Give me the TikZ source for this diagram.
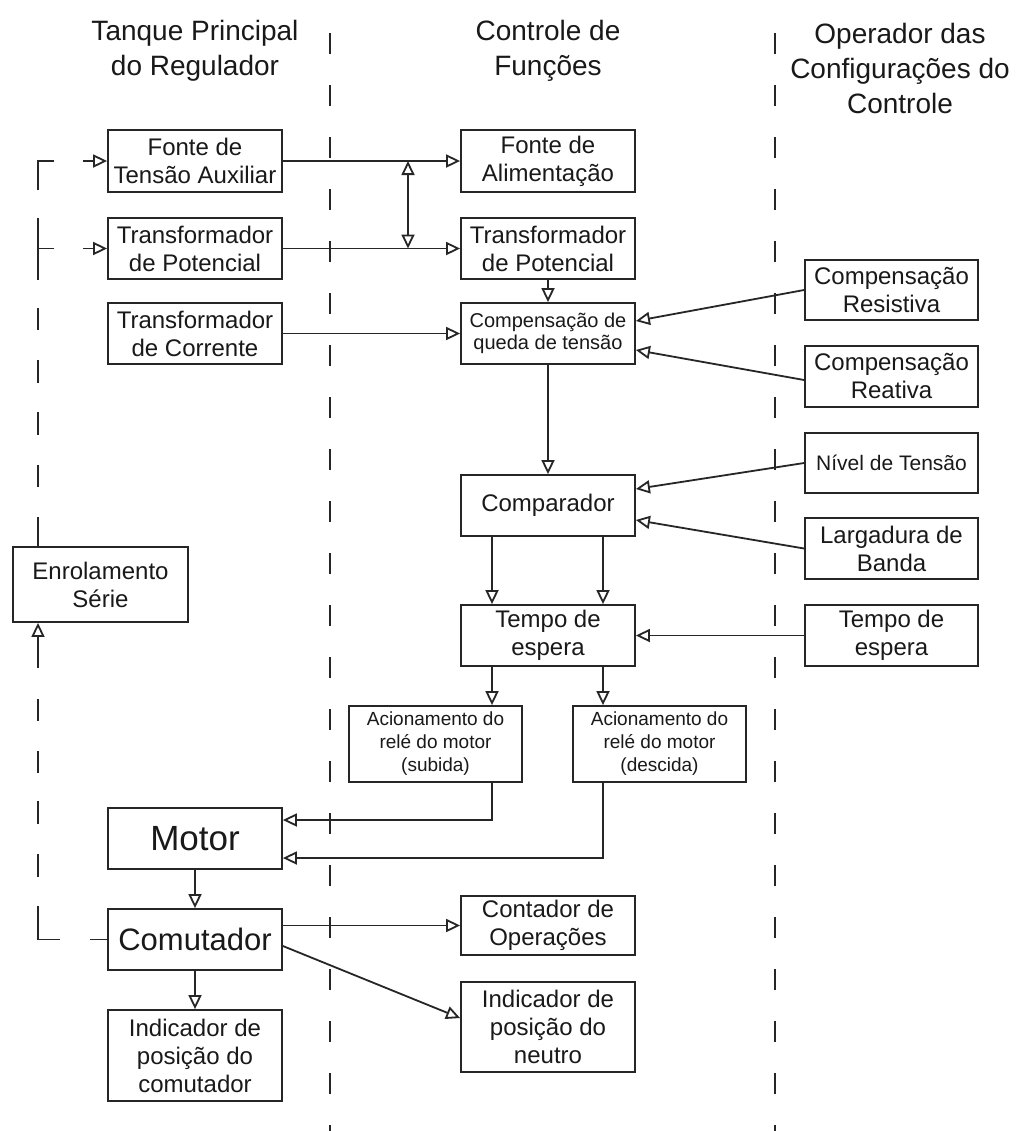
\documentclass[tikz,border=0pt]{standalone}
\usepackage{fontspec}
\setmainfont{Liberation Sans}
\usetikzlibrary{arrows.meta}
\begin{document}
\begin{tikzpicture}[x=0.5pt,y=-0.5pt,
  >={Triangle[open,length=7pt,width=6.5pt]},
  box/.style={draw=black!85, line width=0.9pt, minimum width=87pt, inner sep=0pt, align=center, text=black!90, font=\fontsize{12}{14}\selectfont},
  rbox/.style={box, minimum width=86.5pt},
  head/.style={align=center, text=black!90, font=\fontsize{14}{17.5}\selectfont},
  conn/.style={draw=black!85, line width=0.9pt},
  sep/.style={draw=black!85, line width=0.9pt, dash pattern=on 10.5pt off 15.5pt}
]
\useasboundingbox (0,0) rectangle (1017,1131);
\fill[white] (0,0) rectangle (1017,1131);

% headers
\node[head] (h1) at (195,51) {Tanque Principal\\do Regulador};
\node[head] (h2) at (548,51) {Controle de\\Funções};
\node[head] (h3) at (900,68.5) {Operador das\\Configurações do\\Controle};

% separators
\coordinate (s1t) at (330,33); \coordinate (s1b) at (330,1131);
\coordinate (s2t) at (775,33); \coordinate (s2b) at (775,1131);
\draw[sep] (s1t) -- (s1b);
\draw[sep] (s2t) -- (s2b);

% left column
\node[box, minimum height=31pt] (fta) at (195,161) {Fonte de\\Tensão Auxiliar};
\node[box, minimum height=30.5pt] (tpl) at (195,248.5) {Transformador\\de Potencial};
\node[box, minimum height=30.5pt] (tc) at (195,333.5) {Transformador\\de Corrente};
\node[box, minimum width=87.5pt, minimum height=37.5pt] (es) at (100.5,584.5) {Enrolamento\\Série};
\node[box, minimum height=30.5pt, font=\fontsize{17.5}{20}\selectfont] (mot) at (195,838.5) {Motor};
\node[box, minimum height=30.5pt, font=\fontsize{15.5}{18}\selectfont] (com) at (195,939.5) {Comutador};
\node[box, minimum height=45.5pt] (ic) at (195,1055.5) {Indicador de\\posição do\\comutador};

% middle column
\node[box, minimum height=31pt] (fa) at (548,161) {Fonte de\\Alimentação};
\node[box, minimum height=30.5pt] (tpm) at (548,248.5) {Transformador\\de Potencial};
\node[box, minimum height=30.5pt, font=\fontsize{10}{11}\selectfont] (cq) at (548,333.5) {Compensação de\\queda de tensão};
\node[box, minimum height=30.5pt] (comp) at (548,505.5) {Comparador};
\node[box, minimum height=30.5pt] (tm) at (548,635.5) {Tempo de\\espera};
\node[box, minimum width=86.5pt, minimum height=38pt, font=\fontsize{9.5}{11.5}\selectfont] (as) at (435.5,744) {Acionamento do\\relé do motor\\(subida)};
\node[box, minimum width=86.5pt, minimum height=38pt, font=\fontsize{9.5}{11.5}\selectfont] (ad) at (659.5,744) {Acionamento do\\relé do motor\\(descida)};
\node[box, minimum height=29.5pt] (co) at (548,925.5) {Contador de\\Operações};
\node[box, minimum height=45pt] (inn) at (548,1027) {Indicador de\\posição do\\neutro};

% right column
\node[rbox, minimum height=30pt] (cr) at (891.5,290) {Compensação\\Resistiva};
\node[rbox, minimum height=30.5pt] (cre) at (891.5,376.5) {Compensação\\Reativa};
\node[rbox, minimum height=30pt, font=\fontsize{10.5}{12}\selectfont] (nt) at (891.5,463) {Nível de Tensão};
\node[rbox, minimum height=30.5pt] (lb) at (891.5,548.5) {Largadura de\\Banda};
\node[rbox, minimum height=30.5pt] (tr) at (891.5,635.5) {Tempo de\\espera};

% connectors
\draw[conn,->] (fta.east) -- (fa.west);
\draw[conn,->] (tpl.east) -- (tpm.west);
\coordinate (j1) at (408,161);
\coordinate (j2) at (408,248.5);
\draw[conn,<->] (j2) -- (j1);
\draw[conn,->] (tc.east) -- (cq.west);
\draw[conn,->] (tpm.south) -- (cq.north);
\draw[conn,->] (cr.west) -- ([yshift=6.25pt]cq.east);
\draw[conn,->] ([yshift=-1.75pt]cre.west) -- ([yshift=-8.25pt]cq.east);
\draw[conn,->] (cq.south) -- (comp.north);
\draw[conn,->] (nt.west) -- ([yshift=8.25pt]comp.east);
\draw[conn,->] (lb.west) -- ([yshift=-7.25pt]comp.east);
\draw[conn,->] ([xshift=-28pt]comp.south) -- ([xshift=-28pt]tm.north);
\draw[conn,->] ([xshift=27.5pt]comp.south) -- ([xshift=27.5pt]tm.north);
\draw[conn,->] (tr.west) -- (tm.east);
\draw[conn,->] ([xshift=-28pt]tm.south) -- ([xshift=-28pt]tm.south |- as.north);
\draw[conn,->] ([xshift=27.5pt]tm.south) -- ([xshift=27.5pt]tm.south |- ad.north);
\draw[conn,->] ([xshift=28.25pt]as.south) |- ([yshift=9.25pt]mot.east);
\draw[conn,->] ([xshift=-28.25pt]ad.south) |- ([yshift=-9.75pt]mot.east);
\draw[conn,->] (mot.south) -- (com.north);
\draw[conn,->] (com.east |- co.west) -- (co.west);
\draw[conn,->] ([yshift=-3.25pt]com.east) -- ([yshift=4.5pt]inn.west);
\draw[conn,->] (com.south) -- (ic.north);

% dashed feedback loop
\coordinate (lc1) at (38,939.5);
\coordinate (lc2) at (38,161);
\coordinate (lc3) at (38,248.5);
\draw[conn,<-, dash pattern=on 16pt off 15.5pt on 11pt off 15pt on 11pt off 14pt on 11.5pt off 15pt on 11.5pt off 14.5pt on 27.5pt off 15pt on 20pt off 5pt]
  (lc1 |- es.south) -- (lc1) -- (com.west);
\draw[conn,<-, dash pattern=on 5.5pt off 14.5pt on 22.5pt off 14pt on 31pt off 14pt on 11pt off 15pt on 11.5pt off 14.5pt on 11.5pt off 15pt on 11pt off 15pt on 25pt off 1pt]
  (fta.west) -- (lc2) -- (lc2 |- es.north);
\draw[conn,<-, dash pattern=on 5.5pt off 14.5pt on 20pt off 5pt]
  (tpl.west) -- (lc3);
\end{tikzpicture}
\end{document}
